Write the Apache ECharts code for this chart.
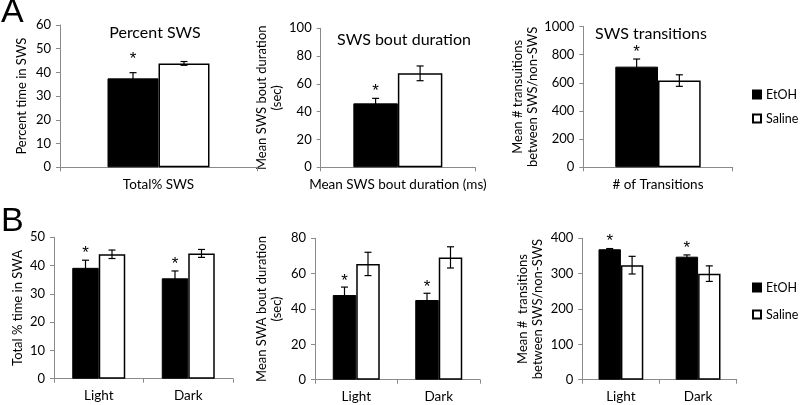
<!DOCTYPE html>
<html>
<head>
<meta charset="utf-8">
<script src="https://cdn.jsdelivr.net/npm/echarts@6/dist/echarts.min.js"></script>
<style>html,body{margin:0;padding:0;background:#fff}#c{width:800px;height:405px}</style>
</head>
<body>
<div id="c"></div>
<script>
// ---------- DATA ----------
const seriesNames = ['EtOH', 'Saline'];

const catA1 = ['Total% SWS'];
const catA2 = ['Mean SWS bout duration (ms)'];
const catA3 = ['# of Transitions'];
const catB = ['Light', 'Dark'];

const a1EtOH = [37.5],  a1EtOHErr = [2.4],  a1Saline = [43.8],  a1SalineErr = [0.8];
const a2EtOH = [46.0],  a2EtOHErr = [3.6],  a2Saline = [67.6],  a2SalineErr = [5.3];
const a3EtOH = [715],   a3EtOHErr = [54],   a3Saline = [616],   a3SalineErr = [41];

const b1EtOH = [39.2, 35.5], b1EtOHErr = [2.7, 2.6], b1Saline = [44.0, 44.3], b1SalineErr = [1.5, 1.4];
const b2EtOH = [47.9, 45.1], b2EtOHErr = [4.5, 3.8], b2Saline = [65.5, 69.2], b2SalineErr = [6.6, 6.0];
const b3EtOH = [369, 348],   b3EtOHErr = [2, 5],     b3Saline = [324, 300],   b3SalineErr = [25, 22];

const a1Star = [true], a2Star = [true], a3Star = [true];
const b1Star = [true, true], b2Star = [true, true], b3Star = [true, true];

const titlesA = ['Percent SWS', 'SWS bout duration', 'SWS transitions'];
const yNames = [
  'Percent time in SWS',
  'Mean SWS bout duration\n(sec)',
  'Mean # transuitions\nbetween SWS/non-SWS',
  'Total % time in SWA',
  'Mean SWA bout duration\n(sec)',
  'Mean #  transitions\nbetween SWS/non-SWS'
];
const yMax = [60, 100, 1000, 50, 80, 400];
const yInterval = [10, 20, 200, 10, 20, 100];

// ---------- LAYOUT / STYLE ----------
const FONT = 'Lato, "Open Sans", sans-serif';
const panels = [
  {cats: catA1, e: a1EtOH, ee: a1EtOHErr, s: a1Saline, se: a1SalineErr, star: a1Star,
   grid: {left: 60, top: 25, width: 197, height: 142.3}, bw: 51, nameX: 22, starGap: 16, xFont: 13.5},
  {cats: catA2, e: a2EtOH, ee: a2EtOHErr, s: a2Saline, se: a2SalineErr, star: a2Star,
   grid: {left: 320.7, top: 28.3, width: 154.3, height: 139}, bw: 44.5, nameX: 269, starGap: 10, xFont: 13.5},
  {cats: catA3, e: a3EtOH, ee: a3EtOHErr, s: a3Saline, se: a3SalineErr, star: a3Star,
   grid: {left: 583.3, top: 26.5, width: 149.4, height: 140.8}, bw: 42.7, nameX: 525, starGap: 10, xFont: 13.5},
  {cats: catB, e: b1EtOH, ee: b1EtOHErr, s: b1Saline, se: b1SalineErr, star: b1Star,
   grid: {left: 54, top: 237.3, width: 179, height: 141.4}, bw: 26.5, nameX: 18, starGap: 10, xFont: 13.5},
  {cats: catB, e: b2EtOH, ee: b2EtOHErr, s: b2Saline, se: b2SalineErr, star: b2Star,
   grid: {left: 315, top: 238.3, width: 165, height: 141.4}, bw: 23.5, nameX: 269, starGap: 9, xFont: 13.5},
  {cats: catB, e: b3EtOH, ee: b3EtOHErr, s: b3Saline, se: b3SalineErr, star: b3Star,
   grid: {left: 582.3, top: 238.3, width: 154.4, height: 141.4}, bw: 22.4, nameX: 530, starGap: 10, xFont: 13.5}
];

const grids = [], xAxes = [], yAxes = [], series = [], graphics = [];
const axisLineStyle = {color: '#8a8a8a', width: 1};

panels.forEach((p, i) => {
  grids.push(Object.assign({containLabel: false}, p.grid));
  xAxes.push({
    type: 'category', gridIndex: i, data: p.cats,
    axisLine: {lineStyle: axisLineStyle},
    axisTick: {show: true, alignWithLabel: false, length: 4, lineStyle: axisLineStyle},
    axisLabel: {color: '#000', fontSize: p.xFont, fontFamily: FONT, margin: 10, interval: 0}
  });
  yAxes.push({
    type: 'value', gridIndex: i, min: 0, max: yMax[i], interval: yInterval[i],
    axisLine: {show: true, lineStyle: axisLineStyle},
    axisTick: {show: true, length: 4, lineStyle: axisLineStyle},
    splitLine: {show: false},
    axisLabel: {color: '#000', fontSize: 13, fontFamily: FONT, margin: 9,
                formatter: v => String(v)}
  });
  // rotated y-axis title
  graphics.push({
    type: 'text', x: p.nameX, y: p.grid.top + p.grid.height / 2, rotation: Math.PI / 2,
    style: {text: yNames[i], align: 'center', verticalAlign: 'middle', textAlign: 'center',
            textVerticalAlign: 'middle', font: '13px ' + FONT, lineHeight: 15, fill: '#000'}
  });
  series.push({
    name: 'EtOH', type: 'bar', xAxisIndex: i, yAxisIndex: i, data: p.e,
    barWidth: p.bw, barGap: '0%',
    itemStyle: {color: '#000', borderColor: '#000', borderWidth: 1}
  });
  series.push({
    name: 'Saline', type: 'bar', xAxisIndex: i, yAxisIndex: i, data: p.s,
    barWidth: p.bw, barGap: '0%',
    itemStyle: {color: '#fff', borderColor: '#000', borderWidth: 1.5}
  });
  const errData = [];
  p.cats.forEach((c, k) => {
    errData.push([k, p.e[k], p.ee[k], p.star[k] ? 1 : 0, -1]);
    errData.push([k, p.s[k], p.se[k], 0, 1]);
  });
  series.push({
    name: 'err' + i, type: 'custom', xAxisIndex: i, yAxisIndex: i, z: 10,
    data: errData, silent: true,
    renderItem: function (params, api) {
      const k = api.value(0), v = api.value(1), er = api.value(2);
      const star = api.value(3), side = api.value(4);
      const c = api.coord([k, v]);
      const x = c[0] + side * p.bw / 2;
      const yTop = api.coord([k, v + er])[1];
      const yBot = api.coord([k, v - er])[1];
      const cap = 3.5;
      const ls = {stroke: '#000', lineWidth: 1.2};
      const children = [
        {type: 'line', shape: {x1: x, y1: yTop, x2: x, y2: yBot}, style: ls},
        {type: 'line', shape: {x1: x - cap, y1: yTop, x2: x + cap, y2: yTop}, style: ls},
        {type: 'line', shape: {x1: x - cap, y1: yBot, x2: x + cap, y2: yBot}, style: ls}
      ];
      if (star) {
        children.push({type: 'text', style: {
          text: '*', x: x, y: yTop - p.starGap + 3, align: 'center', verticalAlign: 'middle',
          textAlign: 'center', textVerticalAlign: 'middle',
          font: '17px "Liberation Sans", Arial, sans-serif', fill: '#000'}});
      }
      return {type: 'group', children: children};
    }
  });
});

const titleCenters = [[155, 33], [404, 40], [651, 34]];
titlesA.forEach((t, i) => graphics.push({
  type: 'text', x: titleCenters[i][0], y: titleCenters[i][1],
  style: {text: t, align: 'center', verticalAlign: 'middle', textAlign: 'center', textVerticalAlign: 'middle',
          font: '16px ' + FONT, fill: '#000'}
}));
graphics.push({type: 'text', x: 1, y: 13, style: {text: 'A', align: 'left', verticalAlign: 'middle',
  textAlign: 'left', textVerticalAlign: 'middle', font: '34px "Liberation Sans", Arial, sans-serif', fill: '#000'}});
graphics.push({type: 'text', x: 1, y: 222, style: {text: 'B', align: 'left', verticalAlign: 'middle',
  textAlign: 'left', textVerticalAlign: 'middle', font: '34px "Liberation Sans", Arial, sans-serif', fill: '#000'}});

const legendBase = {
  orient: 'vertical', data: seriesNames, icon: 'rect', itemWidth: 8, itemHeight: 8,
  itemGap: 11, itemTextGap: 3, padding: 0,
  textStyle: {color: '#000', fontSize: 12.5, fontFamily: FONT},
  selectedMode: false
};

const option = {
  animation: false,
  backgroundColor: '#fff',
  grid: grids, xAxis: xAxes, yAxis: yAxes, series: series,
  legend: [
    Object.assign({}, legendBase, {left: 752, top: 88}),
    Object.assign({}, legendBase, {left: 752, top: 281, itemGap: 14})
  ],
  graphic: graphics
};

const chart = echarts.init(document.getElementById('c'), null, {renderer: 'canvas'});
chart.setOption(option);
</script>
</body>
</html>
